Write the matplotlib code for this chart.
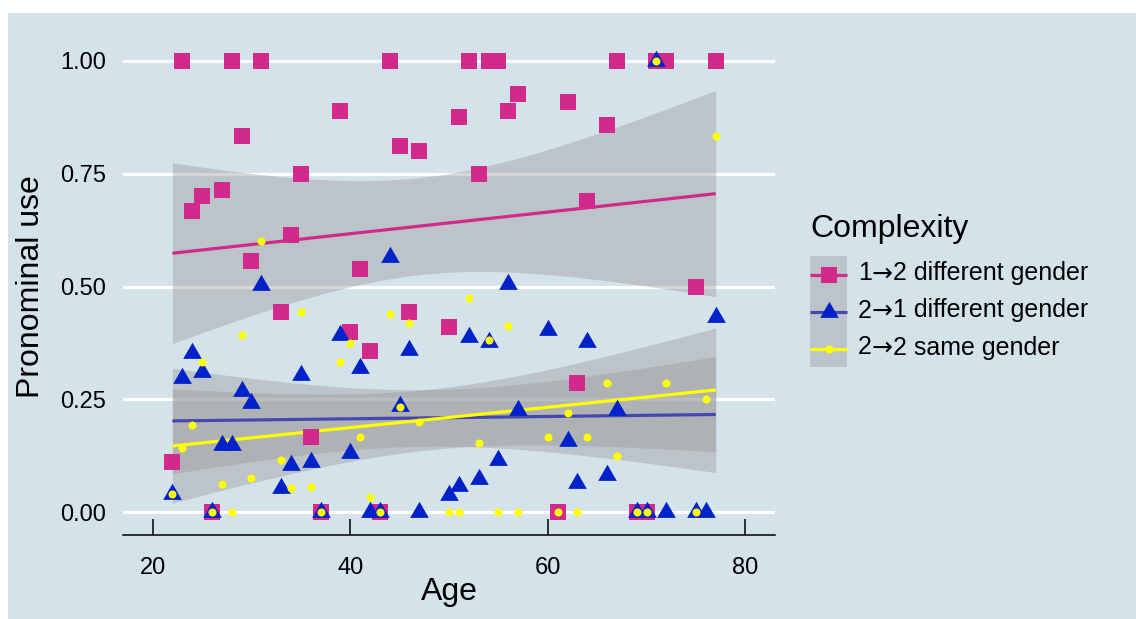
import numpy as np
import matplotlib
matplotlib.use('Agg')
import matplotlib.pyplot as plt
from matplotlib.patches import Rectangle
from matplotlib.lines import Line2D

plt.rcParams['font.family'] = ['Liberation Sans', 'DejaVu Sans']

# ── data ──
pink_x = [22, 23, 24, 25, 26, 27, 28, 29, 30, 31, 33, 34, 35, 36, 37, 39, 40, 41, 42, 43, 44, 45,
          46, 47, 50, 51, 52, 53, 54, 55, 56, 57, 61, 62, 63, 64, 66, 67, 69, 70, 71, 72, 75, 77]
pink_y = [0.111, 1.0, 0.667, 0.70, 0.0, 0.714, 1.0, 0.833, 0.556, 1.0, 0.444, 0.615, 0.75, 0.167,
          0.0, 0.889, 0.40, 0.538, 0.357, 0.0, 1.0, 0.81, 0.444, 0.80, 0.41, 0.875, 1.0, 0.75, 1.0,
          1.0, 0.889, 0.926, 0.0, 0.909, 0.286, 0.69, 0.857, 1.0, 0.0, 0.0, 1.0, 1.0, 0.50, 1.0]

blue_x = [22, 23, 24, 25, 26, 27, 28, 29, 30, 31, 33, 34, 35, 36, 37, 39, 40, 41, 42, 43, 44, 45,
          46, 47, 50, 51, 52, 53, 54, 55, 56, 57, 60, 62, 63, 64, 66, 67, 69, 70, 71, 72, 75, 76, 77]
blue_y = [0.04, 0.297, 0.353, 0.311, 0.0, 0.149, 0.149, 0.268, 0.242, 0.503, 0.055, 0.104, 0.304,
          0.111, 0.0, 0.392, 0.131, 0.319, 0.0, 0.0, 0.566, 0.235, 0.359, 0.0, 0.038, 0.058, 0.388,
          0.075, 0.377, 0.115, 0.505, 0.226, 0.403, 0.157, 0.064, 0.377, 0.082, 0.226, 0.0, 0.0,
          1.0, 0.0, 0.0, 0.0, 0.432]

yel_x = [22, 23, 24, 25, 26, 27, 28, 29, 30, 31, 33, 34, 35, 36, 37, 39, 40, 41, 42, 43, 44, 45,
         46, 47, 50, 51, 52, 53, 54, 55, 56, 57, 60, 61, 62, 63, 64, 66, 67, 69, 70, 71, 72, 75,
         76, 77]
yel_y = [0.04, 0.142, 0.193, 0.333, 0.0, 0.062, 0.0, 0.392, 0.077, 0.601, 0.117, 0.053, 0.444,
         0.056, 0.0, 0.333, 0.374, 0.167, 0.033, 0.0, 0.439, 0.234, 0.42, 0.20, 0.0, 0.0, 0.474,
         0.153, 0.381, 0.0, 0.412, 0.0, 0.167, 0.0, 0.219, 0.0, 0.167, 0.286, 0.124, 0.0, 0.0,
         1.0, 0.286, 0.0, 0.25, 0.833]

# legend labels split round the arrow: (from, to, rest)
label_parts = [('1', '2', ' different gender'), ('2', '1', ' different gender'),
               ('2', '2', ' same gender')]
colors = ['#D12A8C', '#0022C8', '#FFFF00']
line_colors = ['#D12A8C', '#4646B2', '#FFFF00']

BG = '#D4E2E9'
BAND = '#999999'
T95 = 2.015
W, H = 1136, 619

tri = [(0, 1), (-0.866, -0.5), (0.866, -0.5), (0, 1)]
markers = ['s', tri, 'o']
msizes = [12.2, 15.5, 5.8]


def lm_band(x, y, xs):
    x = np.asarray(x, float); y = np.asarray(y, float)
    n = len(x)
    b, a = np.polyfit(x, y, 1)
    res = y - (a + b * x)
    s = np.sqrt(np.sum(res ** 2) / (n - 2))
    sxx = np.sum((x - x.mean()) ** 2)
    fit = a + b * xs
    se = s * np.sqrt(1.0 / n + (xs - x.mean()) ** 2 / sxx)
    return fit, fit - T95 * se, fit + T95 * se


def fx(px):
    return px / W


def fy(py):
    return 1 - py / H


fig = plt.figure(figsize=(W / 100, H / 100), dpi=100, facecolor='white')
fig.patches.append(Rectangle((fx(8), 0), 1, fy(13), transform=fig.transFigure,
                             facecolor=BG, edgecolor='none', zorder=-10))
ax = fig.add_axes([fx(123), fy(535), 652 / W, 497 / H])
ax.set_facecolor('none')

groups = [(pink_x, pink_y), (blue_x, blue_y), (yel_x, yel_y)]
for i, (gx, gy) in enumerate(groups):
    xs = np.linspace(min(gx), max(gx), 100)
    fit, lo, hi = lm_band(gx, gy, xs)
    ax.fill_between(xs, lo, hi, color=BAND, alpha=0.4, lw=0, zorder=1)
    ax.plot(xs, fit, color=line_colors[i], lw=2.3, zorder=2, solid_capstyle='butt')

for i, (gx, gy) in enumerate(groups):
    ax.plot(gx, gy, ls='none', marker=markers[i], ms=msizes[i], color=colors[i],
            mew=0, zorder=3 + i)

ax.set_xlim(17, 83)
ax.set_ylim(-0.05, 1.05)
ax.set_xticks([20, 40, 60, 80])
ax.set_yticks([0, 0.25, 0.5, 0.75, 1.0])
ax.set_yticklabels(['0.00', '0.25', '0.50', '0.75', '1.00'])
ax.grid(axis='y', color='white', lw=2.3)
ax.grid(axis='x', visible=False)
ax.set_axisbelow(True)
for s in ['top', 'right', 'left']:
    ax.spines[s].set_visible(False)
ax.spines['bottom'].set_linewidth(1.1)
ax.tick_params(axis='x', direction='in', length=11.5, width=1.1, pad=16, labelsize=17)
ax.tick_params(axis='y', length=0, pad=12, labelsize=17)

fig.text(fx(449), fy(600), 'Age', ha='center', va='baseline', fontsize=23)
fig.text(fx(31), fy(287), 'Pronominal use', rotation=90, ha='center', va='center',
         fontsize=23)

# legend, ggplot style: stacked grey keys with line + point
fig.text(fx(810), fy(237), 'Complexity', ha='left', va='baseline', fontsize=23)
key_l, key_r, key_top, key_h = 810, 847, 256, 37
fig.patches.append(Rectangle((fx(key_l), fy(key_top + 3 * key_h)), (key_r - key_l) / W,
                             3 * key_h / H, transform=fig.transFigure, facecolor=BAND,
                             alpha=0.4, edgecolor='none'))
renderer = fig.canvas.get_renderer()
for i in range(3):
    cy = key_top + key_h * (i + 0.5)
    fig.lines.append(Line2D([fx(key_l), fx(key_r)], [fy(cy), fy(cy)], transform=fig.transFigure,
                            color=line_colors[i], lw=2.3, solid_capstyle='butt'))
    fig.lines.append(Line2D([fx((key_l + key_r) / 2)], [fy(cy)], transform=fig.transFigure,
                            ls='none', marker=markers[i], ms=msizes[i], color=colors[i], mew=0))
    a, b, rest = label_parts[i]
    x = 858
    for part, fam, size in [(a, ['Liberation Sans'], 18), ('\u2192', ['Noto Sans', 'DejaVu Sans'], 18),
                            (b + rest, ['Liberation Sans'], 18)]:
        t = fig.text(fx(x), fy(cy + 6), part, ha='left', va='baseline', fontsize=size,
                     family=fam)
        x += t.get_window_extent(renderer).width

fig.savefig('out.png', dpi=100, facecolor='white')
